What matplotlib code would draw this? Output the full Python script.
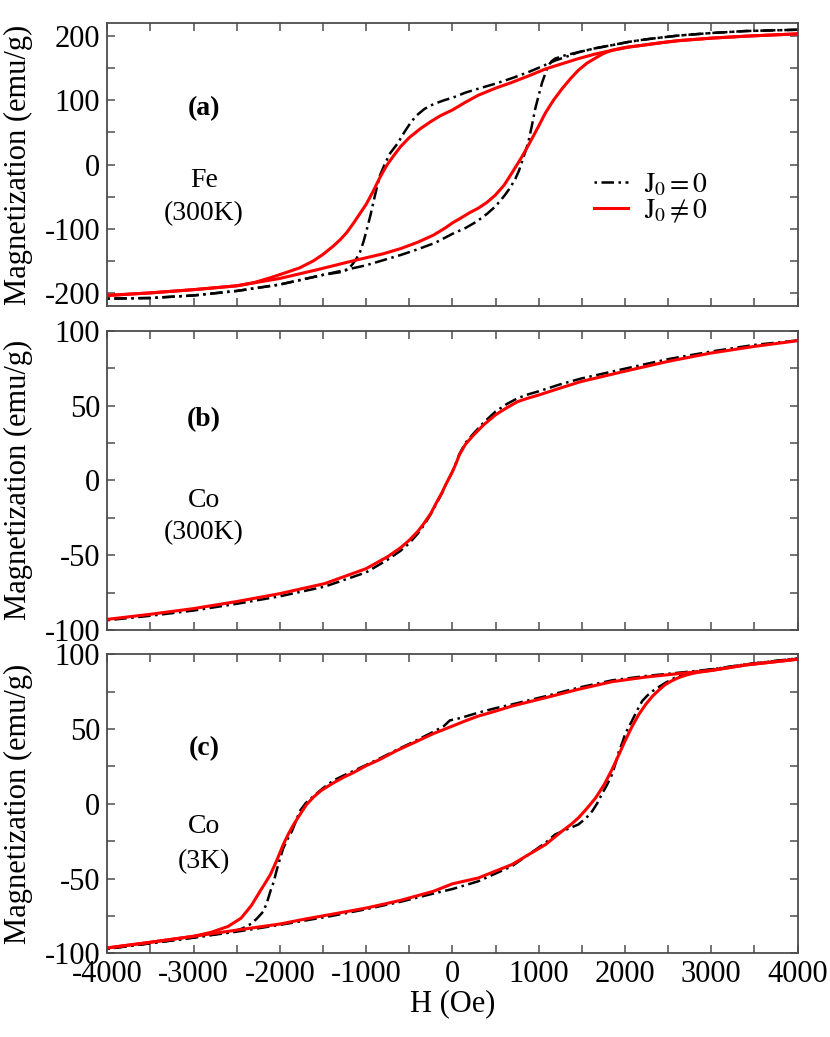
import matplotlib
matplotlib.use("Agg")
import matplotlib.pyplot as plt
from matplotlib.ticker import MultipleLocator

plt.rcParams["font.family"] = ["Liberation Serif", "DejaVu Serif"]
plt.rcParams["mathtext.fontset"] = "stix"
plt.rcParams["axes.unicode_minus"] = False

# -----------------------------
# (a) Fe, 300K
# -----------------------------
fe_j0_lower_h = [-4000, -3500, -3000, -2500, -2000, -1500, -1000, -600, -400, -200, 0, 150, 280,
                 400, 500, 600, 670, 730, 770, 800, 840, 880, 920, 960, 1000, 1040, 1080,
                 1110, 1150, 1190, 1300, 1460, 1650, 1850, 2040, 2240, 2430, 2620, 3010,
                 3400, 4000]
fe_j0_lower_m = [-209, -208, -204, -197, -187, -172, -157, -141, -132, -122, -108, -99, -89,
                 -77, -65, -49, -36, -22, -10, 2, 18, 35, 60, 87, 108, 128, 143,
                 154, 161, 165, 170, 175, 181, 186, 191, 195, 198, 201, 205,
                 208, 210]
fe_j0_upper_h = [-4000, -3500, -3000, -2500, -2000, -1500, -1360, -1260, -1200, -1150, -1110,
                 -1070, -1030, -990, -950, -915, -880, -840, -780, -720, -640, -550, -480,
                 -420, -320, -220, -100, 0, 150, 320, 500, 700, 880, 1040, 1190, 1300, 1460,
                 1650, 1850, 2040, 2240, 2430, 2620, 3010, 3400, 4000]
fe_j0_upper_m = [-209, -208, -204, -197, -187, -172, -169, -167, -162, -154, -146,
                 -136, -120, -100, -79, -58, -38, -17, 2, 18, 32, 52, 66,
                 76, 87, 94, 100, 104, 112, 119, 126, 135, 144, 153, 162, 167, 175,
                 181, 186, 191, 195, 198, 201, 205, 208, 210]

fe_j1_lower_h = [-4000, -3500, -3000, -2500, -2000, -1570, -1150, -800, -600, -400, -220, -85,
                 0, 90, 200, 300, 400, 495, 600, 690, 750, 805, 860, 920, 1000, 1076,
                 1170, 1270, 1370, 1460, 1560, 1660, 1750, 1850, 2000, 2240, 2430, 2620,
                 3010, 3400, 4000]
fe_j1_lower_m = [-204, -200, -195, -189, -177.5, -164, -150, -139, -131, -121, -110, -99,
                 -91, -84, -75, -68, -59, -48, -32, -13, 0, 12, 25, 40, 60, 80,
                 100, 118, 134, 147, 158, 166, 173, 178, 182.5, 186.5, 190, 193,
                 197, 200, 203.6]
fe_j1_upper_h = [-4000, -3500, -3000, -2500, -2300, -2100, -1900, -1770, -1610, -1500, -1380,
                 -1300, -1225, -1150, -1070, -1000, -920, -840, -760, -680, -600, -500,
                 -370, -250, -140, 0, 150, 300, 500, 690, 900, 1080, 1270, 1460, 1650,
                 1850, 2050, 2240, 2430, 2620, 3010, 3400, 4000]
fe_j1_upper_m = [-204, -200, -195, -189, -184, -176, -167, -161, -150, -140, -127,
                 -117, -106, -92, -76, -62, -42, -20, -1, 14, 28, 42,
                 56, 67, 76, 85, 97, 108, 119, 128, 139, 149, 157, 165, 172,
                 178, 183, 186.5, 190, 193, 197, 200, 203.6]

# -----------------------------
# (b) Co, 300K
# -----------------------------
co300_h = [-4000, -3500, -3000, -2500, -2000, -1480, -1000, -750, -600, -500, -400, -330,
           -250, -180, -120, -70, 0, 40, 80, 150, 240, 360, 500, 630, 760, 880, 1000,
           1240, 1490, 1990, 2500, 2990, 3500, 4000]
co300_j1_m = [-92.9, -89.5, -85.7, -81, -75.7, -69, -59, -51, -45, -40, -34, -28.8,
              -22, -14.3, -8, -2, 5.8, 11, 17, 24, 30, 37, 43.8, 48.5, 52.7, 55, 57,
              61.5, 66, 72.8, 79.5, 85, 89.5, 93.3]
co300_j0_m = [-93.5, -90.5, -87, -82.5, -77.5, -71, -61.5, -53, -47, -42, -35.5, -30,
              -22.5, -15, -8.5, -2, 5.8, 11.5, 17.5, 25, 31, 38.5, 46, 51, 55, 57.5, 59.5,
              64, 68, 74.5, 81, 86, 90.5, 93.5]

# -----------------------------
# (c) Co, 3K
# -----------------------------
co3_j0_lower_h = [-4000, -3500, -3000, -2500, -2000, -1400, -1000, -600, -220, 0, 300, 690,
                  1080, 1190, 1330, 1460, 1550, 1620, 1680, 1730, 1790, 1850, 1890, 1930,
                  1970, 2000, 2040, 2080, 2140, 2200, 2260, 2320, 2400, 2470, 2550, 2620,
                  2820, 3010, 3400, 4000]
co3_j0_lower_m = [-97, -93.3, -89.5, -85.5, -81, -75, -70.5, -65.5, -60, -57, -51.8, -41.7,
                  -26, -20.5, -17, -13.8, -9.5, -4.9, 0.5, 6.3, 12.5, 19.6, 27, 35.3,
                  41, 46.4, 51, 55.4, 62.5, 68.8, 72.5, 75.4, 78.5, 81, 83.5, 85.5,
                  88.5, 90, 93.3, 97.3]
co3_j0_upper_h = [-4000, -3500, -3000, -2540, -2440, -2350, -2270, -2190, -2150, -2110, -2070,
                  -2040, -2000, -1960, -1910, -1860, -1810, -1770, -1700, -1610, -1500,
                  -1380, -1260, -1150, -1000, -840, -650, -450, -220, -100, -30, 100, 300,
                  500, 690, 1080, 1460, 1850, 2240, 2620, 3010, 3400, 4000]
co3_j0_upper_m = [-97, -93.3, -89.5, -85.3, -83.5, -80.8, -77, -71.9, -66, -58.5, -52,
                  -45, -37, -29.5, -23.5, -18.3, -11, -4.9, 0.5, 5.1, 10.5,
                  15.6, 19, 21.9, 26, 30.4, 36, 41.5, 48.2, 52, 55.8, 57.5, 61,
                  64, 66.5, 72, 77.7, 82.6, 85.5, 87.7, 90, 93.3, 97.3]

co3_j1_lower_h = [-4000, -3500, -3000, -2540, -2000, -1700, -1380, -990, -610, -220, 0, 300,
                  690, 1080, 1170, 1270, 1370, 1460, 1560, 1660, 1760, 1850, 1930, 2000,
                  2080, 2160, 2240, 2320, 2400, 2470, 2550, 2620, 2720, 2820, 3010, 3400,
                  4000]
co3_j1_lower_m = [-96.4, -92.6, -88.6, -84.8, -80.4, -77, -73.7, -69.6, -64.7, -58.5, -53.5,
                  -49.6, -40.6, -27.2, -23, -18.3, -14, -9.4, -3, 4, 13, 23, 33, 42,
                  51.5, 59.8, 66.5, 72.1, 76.5, 79.9, 82.5, 84.4, 86.3, 87.7, 89.3, 92.9,
                  96.7]
co3_j1_upper_h = [-4000, -3500, -3000, -2800, -2600, -2450, -2330, -2230, -2170, -2110, -2040,
                  -1960, -1900, -1840, -1760, -1690, -1610, -1530, -1450, -1380, -1260,
                  -1150, -1000, -840, -650, -450, -220, 0, 150, 300, 500, 690, 1080, 1460,
                  1850, 2240, 2620, 3010, 3400, 4000]
co3_j1_upper_m = [-96.4, -92.6, -88.6, -86, -82, -76.5, -68, -58.5, -53, -47.3, -38.4,
                  -27.2, -20, -13.8, -6.5, -0.4, 4.5, 8.5, 11.5, 14, 17.8,
                  20.8, 25.5, 29.7, 35.5, 40.8, 47, 52, 55.5, 58.7, 62, 65.4, 71, 76.6,
                  81.7, 84.8, 87.1, 89.3, 92.9, 96.7]

panel_tags = ["(a)", "(b)", "(c)"]
panel_names = [["Fe", "(300K)"], ["Co", "(300K)"], ["Co", "(3K)"]]
legend_labels = [r"$\mathrm{J_0 = 0}$", r"$\mathrm{J_0 \neq 0}$"]

black_style = dict(color="black", lw=1.8, linestyle=(6.8, (5, 1.8, 1, 1.8)))
red_style = dict(color="#ff0000", lw=2.2)

fig = plt.figure(figsize=(8.3, 10.37), dpi=100)
left, width = 0.1293, 0.8316
ax_a = fig.add_axes([left, 0.7052, width, 0.2723])
ax_b = fig.add_axes([left, 0.3925, width, 0.2886])
ax_c = fig.add_axes([left, 0.0807, width, 0.2883])
axes = [ax_a, ax_b, ax_c]

# panel a
ax_a.plot(fe_j0_lower_h, fe_j0_lower_m, label=legend_labels[0], **black_style)
ax_a.plot(fe_j0_upper_h, fe_j0_upper_m, **black_style)
ax_a.plot(fe_j1_lower_h, fe_j1_lower_m, label=legend_labels[1], **red_style)
ax_a.plot(fe_j1_upper_h, fe_j1_upper_m, **red_style)
ax_a.set_ylim(-220, 220)
ax_a.yaxis.set_major_locator(MultipleLocator(100))
ax_a.yaxis.set_minor_locator(MultipleLocator(50))
ax_a.legend(loc="upper left", bbox_to_anchor=(0.705, 0.478), frameon=False, fontsize=20,
            handlelength=1.22, handletextpad=0.6, labelspacing=0.0,
            borderpad=0, borderaxespad=0)

# panel b
ax_b.plot(co300_h, co300_j0_m, **black_style)
ax_b.plot(co300_h, co300_j1_m, **red_style)

# panel c
ax_c.plot(co3_j0_lower_h, co3_j0_lower_m, **black_style)
ax_c.plot(co3_j0_upper_h, co3_j0_upper_m, **black_style)
ax_c.plot(co3_j1_lower_h, co3_j1_lower_m, **red_style)
ax_c.plot(co3_j1_upper_h, co3_j1_upper_m, **red_style)

for ax in (ax_b, ax_c):
    ax.set_ylim(-100, 100)
    ax.yaxis.set_major_locator(MultipleLocator(50))
    ax.yaxis.set_minor_locator(MultipleLocator(25))

tag_y = [0.697, 0.702, 0.686]
name_y = [[0.445, 0.325], [0.434, 0.324], [0.423, 0.306]]
for i, ax in enumerate(axes):
    ax.set_xlim(-4000, 4000)
    ax.xaxis.set_major_locator(MultipleLocator(1000))
    ax.xaxis.set_minor_locator(MultipleLocator(500))
    ax.tick_params(which="both", direction="in", top=True, right=True, length=6,
                   width=1.1, color="0.3", labelsize=22, pad=5)
    for sp in ax.spines.values():
        sp.set_linewidth(1.3)
        sp.set_color("0.3")
    ax.set_ylabel("Magnetization (emu/g)", fontsize=22)
    ax.yaxis.set_label_coords(-0.108, 0.5)
    ax.text(0.14, tag_y[i], panel_tags[i], transform=ax.transAxes, fontsize=20,
            fontweight="bold", ha="center", va="center")
    ax.text(0.14, name_y[i][0], panel_names[i][0], transform=ax.transAxes, fontsize=20,
            ha="center", va="center")
    ax.text(0.14, name_y[i][1], panel_names[i][1], transform=ax.transAxes, fontsize=20,
            ha="center", va="center")
    if i < 2:
        ax.tick_params(labelbottom=False)

ax_c.set_xlabel("H (Oe)", fontsize=22)
ax_c.xaxis.set_label_coords(0.5, -0.12)

fig.savefig("out.png", dpi=100)
